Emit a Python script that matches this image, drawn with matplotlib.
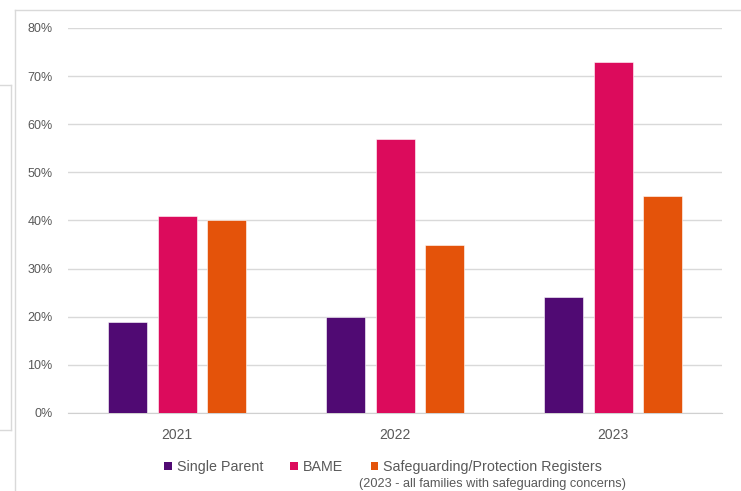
import numpy as np
import matplotlib.pyplot as plt
from matplotlib.patches import Patch
from matplotlib.lines import Line2D

plt.rcParams['font.family'] = ['Liberation Sans', 'DejaVu Sans']

years = ['2021', '2022', '2023']
series = ['Single Parent', 'BAME', 'Safeguarding/Protection Registers']
single_parent = [0.19, 0.20, 0.24]
bame = [0.41, 0.57, 0.73]
safeguarding = [0.40, 0.35, 0.45]
colors = ['#500a73', '#dc0b5c', '#e4530a']
yticks = [0, 0.1, 0.2, 0.3, 0.4, 0.5, 0.6, 0.7, 0.8]

fig = plt.figure(figsize=(7.41, 4.91), dpi=100)
ax = fig.add_axes([0.0918, 0.1589, 0.8826, 0.7841])

x = np.arange(len(years))
width = 0.179
step = 0.225
for i, (vals, c) in enumerate(zip([single_parent, bame, safeguarding], colors)):
    ax.bar(x + (i - 1) * step, vals, width, color=c, edgecolor='white',
           linewidth=0.4, zorder=3)

ax.set_xlim(-0.5, 2.5)
ax.set_ylim(0, 0.8)
ax.set_yticks(yticks)
ax.set_yticklabels([f'{int(round(t * 100))}%' for t in yticks])
ax.set_xticks(x)
ax.set_xticklabels(years)
ax.grid(axis='y', color='#d9d9d9', linewidth=1, zorder=0)
for s in ['top', 'right', 'left']:
    ax.spines[s].set_visible(False)
ax.spines['bottom'].set_color('#d0d0d0')
ax.tick_params(length=0, labelsize=9, labelcolor='#595959')
ax.tick_params(axis='x', pad=11, labelsize=10)
ax.tick_params(axis='y', pad=11)

handles = [Patch(facecolor=c, edgecolor='none') for c in colors]
fig.legend(handles, series, loc='center', bbox_to_anchor=(0.517, 0.049),
           ncol=3, frameon=False, fontsize=10.3, labelcolor='#595959',
           handlelength=0.55, handleheight=0.55, handletextpad=0.35,
           columnspacing=1.9)
fig.text(0.664, 0.014, '(2023 - all families with safeguarding concerns)',
         ha='center', va='center', fontsize=9.2, color='#595959')

# surrounding frame lines
gc = '#d9d9d9'
fig.add_artist(Line2D([0.0202, 0.0202], [0, 0.9796], color=gc, lw=1))
fig.add_artist(Line2D([0.0202, 1], [0.9796, 0.9796], color=gc, lw=1))
fig.add_artist(Line2D([0.0148, 0.0148], [0.124, 0.827], color=gc, lw=1))
fig.add_artist(Line2D([0, 0.0148], [0.124, 0.124], color=gc, lw=1))
fig.add_artist(Line2D([0, 0.0148], [0.827, 0.827], color=gc, lw=1))

fig.savefig('out.png', dpi=100)
